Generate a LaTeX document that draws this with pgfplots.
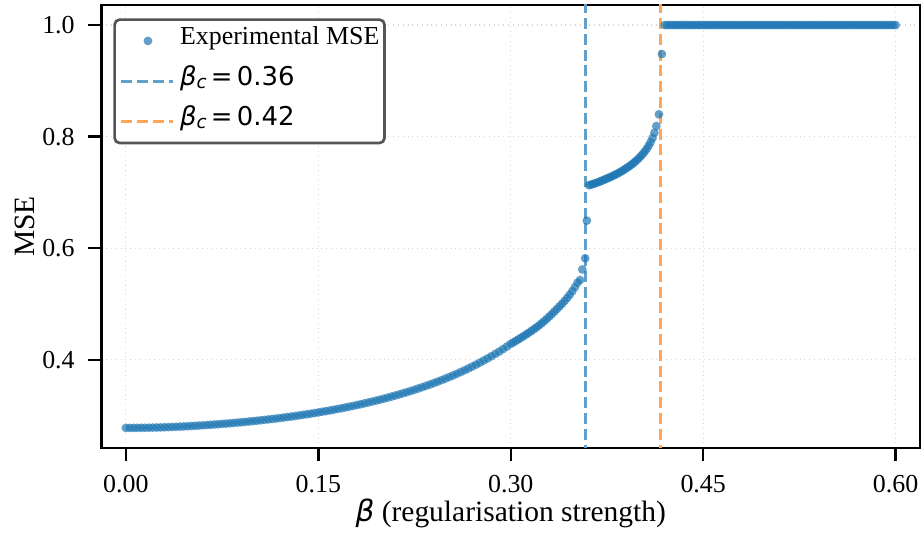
\documentclass[border=0pt]{standalone}
\usepackage{fontspec}
\setmainfont{Liberation Serif}
\newfontfamily\dejavu{DejaVu Sans}
\usepackage{pgfplots}
\usepackage{pgfplotstable}
\pgfplotsset{compat=1.18}

\definecolor{tabblue}{RGB}{31,119,180}
\definecolor{lineblue}{RGB}{98,160,203}
\definecolor{lineorange}{RGB}{255,165,86}
\definecolor{legendgray}{RGB}{85,85,85}
\definecolor{gridgray}{RGB}{215,215,215}

\pgfplotsset{
    legline/.style={legend image code/.code={\draw[##1] (0bp,0bp) -- (26bp,0bp);}},
    legdot/.style={legend image code/.code={
        \path[draw=none, fill=none] (0bp,0bp) -- (26bp,0bp);
        \path[##1, draw=none] plot coordinates {(13.3bp,0bp)};}},
}

\newcommand{\betasym}{{\dejavu\itshape β}}
\newcommand{\betac}[1]{{\dejavu{\itshape β}\raisebox{-0.25ex}{\fontsize{9.2}{10}\selectfont\itshape c}\,=\,#1}}

% beta  mse
\pgfplotstableread{
b y
0.000 0.2780
0.003 0.2780
0.006 0.2781
0.009 0.2781
0.012 0.2782
0.015 0.2783
0.018 0.2784
0.021 0.2786
0.024 0.2787
0.027 0.2789
0.030 0.2791
0.033 0.2794
0.036 0.2797
0.039 0.2800
0.042 0.2803
0.045 0.2806
0.048 0.2810
0.051 0.2814
0.054 0.2818
0.057 0.2822
0.060 0.2826
0.063 0.2831
0.066 0.2836
0.069 0.2841
0.072 0.2846
0.075 0.2852
0.078 0.2857
0.081 0.2863
0.084 0.2869
0.087 0.2875
0.090 0.2881
0.093 0.2888
0.096 0.2895
0.099 0.2902
0.102 0.2909
0.105 0.2916
0.108 0.2924
0.111 0.2932
0.114 0.2940
0.117 0.2948
0.120 0.2957
0.123 0.2966
0.126 0.2975
0.129 0.2984
0.132 0.2994
0.135 0.3004
0.138 0.3014
0.141 0.3024
0.144 0.3035
0.147 0.3046
0.150 0.3057
0.153 0.3069
0.156 0.3081
0.159 0.3093
0.162 0.3106
0.165 0.3119
0.168 0.3132
0.171 0.3146
0.174 0.3160
0.177 0.3174
0.180 0.3189
0.183 0.3204
0.186 0.3220
0.189 0.3236
0.192 0.3252
0.195 0.3269
0.198 0.3286
0.201 0.3304
0.204 0.3322
0.207 0.3341
0.210 0.3360
0.213 0.3380
0.216 0.3400
0.219 0.3421
0.222 0.3442
0.225 0.3464
0.228 0.3487
0.231 0.3510
0.234 0.3534
0.237 0.3558
0.240 0.3583
0.243 0.3609
0.246 0.3636
0.249 0.3663
0.252 0.3691
0.255 0.3720
0.258 0.3750
0.261 0.3781
0.264 0.3813
0.267 0.3846
0.270 0.3880
0.273 0.3915
0.276 0.3951
0.279 0.3988
0.282 0.4026
0.285 0.4066
0.288 0.4107
0.291 0.4149
0.294 0.4193
0.297 0.4239
0.300 0.4286
0.302 0.4312
0.304 0.4340
0.306 0.4368
0.308 0.4396
0.310 0.4425
0.312 0.4455
0.314 0.4485
0.316 0.4516
0.318 0.4548
0.320 0.4581
0.322 0.4616
0.324 0.4653
0.326 0.4692
0.328 0.4733
0.330 0.4776
0.332 0.4820
0.334 0.4865
0.336 0.4911
0.338 0.4958
0.340 0.5006
0.342 0.5056
0.344 0.5110
0.346 0.5168
0.348 0.5232
0.350 0.5303
0.352 0.5382
0.3540 0.5430
0.3558 0.5620
0.3580 0.5820
0.3593 0.6495
0.3610 0.7130
0.3625 0.7140
0.3640 0.7150
0.3655 0.7162
0.3670 0.7174
0.3685 0.7187
0.3700 0.7200
0.3715 0.7215
0.3730 0.7230
0.3745 0.7245
0.3760 0.7260
0.3775 0.7275
0.3790 0.7291
0.3805 0.7308
0.3820 0.7325
0.3835 0.7343
0.3850 0.7362
0.3865 0.7382
0.3880 0.7403
0.3895 0.7425
0.3910 0.7448
0.3925 0.7472
0.3940 0.7497
0.3955 0.7524
0.3970 0.7553
0.3985 0.7584
0.4000 0.7617
0.4015 0.7653
0.4030 0.7692
0.4045 0.7735
0.4060 0.7783
0.4075 0.7838
0.4090 0.7900
0.4105 0.7975
0.4120 0.8070
0.4135 0.8190
0.4155 0.8400
0.4178 0.9480
0.4200 1.0
0.4220 1.0
0.4240 1.0
0.4260 1.0
0.4280 1.0
0.4300 1.0
0.4320 1.0
0.4340 1.0
0.4360 1.0
0.4380 1.0
0.4400 1.0
0.4420 1.0
0.4440 1.0
0.4460 1.0
0.4480 1.0
0.4500 1.0
0.4520 1.0
0.4540 1.0
0.4560 1.0
0.4580 1.0
0.4600 1.0
0.4620 1.0
0.4640 1.0
0.4660 1.0
0.4680 1.0
0.4700 1.0
0.4720 1.0
0.4740 1.0
0.4760 1.0
0.4780 1.0
0.4800 1.0
0.4820 1.0
0.4840 1.0
0.4860 1.0
0.4880 1.0
0.4900 1.0
0.4920 1.0
0.4940 1.0
0.4960 1.0
0.4980 1.0
0.5000 1.0
0.5020 1.0
0.5040 1.0
0.5060 1.0
0.5080 1.0
0.5100 1.0
0.5120 1.0
0.5140 1.0
0.5160 1.0
0.5180 1.0
0.5200 1.0
0.5220 1.0
0.5240 1.0
0.5260 1.0
0.5280 1.0
0.5300 1.0
0.5320 1.0
0.5340 1.0
0.5360 1.0
0.5380 1.0
0.5400 1.0
0.5420 1.0
0.5440 1.0
0.5460 1.0
0.5480 1.0
0.5500 1.0
0.5520 1.0
0.5540 1.0
0.5560 1.0
0.5580 1.0
0.5600 1.0
0.5620 1.0
0.5640 1.0
0.5660 1.0
0.5680 1.0
0.5700 1.0
0.5720 1.0
0.5740 1.0
0.5760 1.0
0.5780 1.0
0.5800 1.0
0.5820 1.0
0.5840 1.0
0.5860 1.0
0.5880 1.0
0.5900 1.0
0.5920 1.0
0.5940 1.0
0.5960 1.0
0.5980 1.0
0.6000 1.0
}\msedata

\begin{document}
\begin{tikzpicture}
\begin{axis}[
    name=ax,
    scale only axis,
    width=409.25bp, height=221.5bp,
    xmin=-0.019, xmax=0.619,
    ymin=0.242, ymax=1.036,
    xtick={0,0.15,0.3,0.45,0.6},
    ytick={0.4,0.6,0.8,1.0},
    /pgf/number format/assume math mode=true,
    xticklabel={\pgfmathprintnumber[fixed,fixed zerofill,precision=2]{\tick}},
    yticklabel={\pgfmathprintnumber[fixed,fixed zerofill,precision=1]{\tick}},
    ticklabel style={font=\fontsize{13}{15}\selectfont},
    xticklabel style={yshift=-3.5bp},
    yticklabel style={xshift=-3.4bp},
    xtick pos=bottom, ytick pos=left,
    tick align=outside,
    major tick length=6.5bp,
    every tick/.style={black, line width=1.2bp},
    axis line style={line width=1.2bp, black},
    grid=major,
    major grid style={gridgray, dotted, line width=0.6bp},
    label style={font=\fontsize{14.8}{17}\selectfont},
    xlabel={\betasym{} (regularisation strength)},
    xlabel style={at={(rel axis cs:0.5,0)}, anchor=base, yshift=-36.8bp},
    ylabel={MSE},
    ylabel style={at={(rel axis cs:0,0.5)}, anchor=base, yshift=33.25bp},
    legend style={
        at={(0.0144,0.970)}, anchor=north west,
        draw=legendgray, line width=1.35bp, rounded corners=2.5bp,
        fill=white,
        font=\fontsize{13}{15}\selectfont,
        inner xsep=2.6bp, inner ysep=2bp,
        row sep=2.9bp,
        nodes={inner xsep=0pt, inner ysep=0pt, text height=10.5bp, text depth=6.8bp},
        /tikz/every odd column/.append style={column sep=2.6bp},
    },
    legend cell align=left,
]
\addplot[only marks, mark=*, mark size=2.2bp,
    mark options={fill=tabblue, fill opacity=0.7, draw opacity=0},
    legdot] table[x=b, y=y] {\msedata};
\addlegendentry{Experimental MSE}

\addplot[lineblue, line width=1.5bp, dash pattern=on 5.5bp off 2.4bp, legline]
    coordinates {(0.3583,0.2) (0.3583,1.1)};
\addlegendentry{\betac{0.36}}

\addplot[lineorange, line width=1.5bp, dash pattern=on 5.5bp off 2.4bp, legline]
    coordinates {(0.4170,0.2) (0.4170,1.1)};
\addlegendentry{\betac{0.42}}
\end{axis}
\pgfresetboundingbox
\path[use as bounding box] ([shift={(-50.75bp,-42.5bp)}]ax.south west) rectangle ([shift={(1bp,2.5bp)}]ax.north east);
\end{tikzpicture}
\end{document}
